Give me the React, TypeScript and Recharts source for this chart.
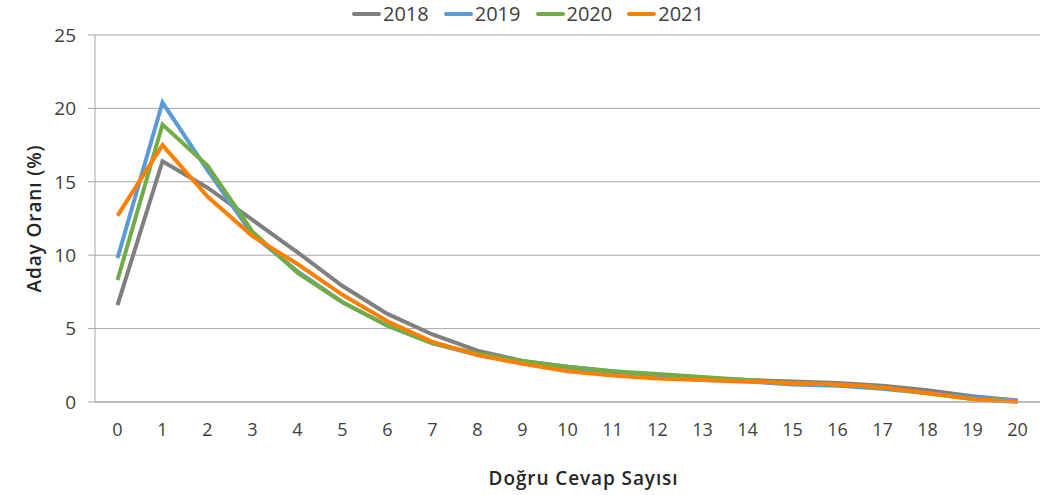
import React from "react";
import { LineChart, Line, XAxis, YAxis, CartesianGrid, Label } from "recharts";

const categories = ["0","1","2","3","4","5","6","7","8","9","10","11","12","13","14","15","16","17","18","19","20"];
const s2018 = [6.6, 16.4, 14.6, 12.4, 10.2, 7.9, 6.0, 4.6, 3.5, 2.8, 2.4, 2.1, 1.8, 1.6, 1.5, 1.4, 1.3, 1.1, 0.8, 0.4, 0.1];
const s2019 = [9.8, 20.4, 15.8, 11.4, 8.9, 6.8, 5.2, 4.0, 3.2, 2.7, 2.3, 2.0, 1.7, 1.5, 1.4, 1.2, 1.1, 0.9, 0.6, 0.3, 0.1];
const s2020 = [8.3, 18.9, 16.1, 11.6, 8.8, 6.8, 5.2, 4.0, 3.3, 2.8, 2.4, 2.1, 1.9, 1.7, 1.5, 1.3, 1.2, 1.0, 0.6, 0.2, 0.05];
const s2021 = [12.7, 17.5, 14.0, 11.3, 9.4, 7.3, 5.5, 4.1, 3.2, 2.6, 2.1, 1.8, 1.6, 1.5, 1.4, 1.3, 1.2, 1.0, 0.6, 0.2, 0.0];
const yTicks = [0, 5, 10, 15, 20, 25];
const seriesNames = ["2018", "2019", "2020", "2021"];
const colors = ["#7F7F7F", "#5B9BD5", "#70AD47", "#FF8000"];

const data = categories.map((c, i) => ({
  x: c,
  "2018": s2018[i],
  "2019": s2019[i],
  "2020": s2020[i],
  "2021": s2021[i],
}));

const FONT = "'Open Sans', 'DejaVu Sans', sans-serif";

const LegendBox = () => (
  <div style={{ position: "absolute", left: 352, top: 2, display: "flex", alignItems: "center", fontFamily: FONT, fontSize: 20, lineHeight: "24px", color: "#404040" }}>
    {seriesNames.map((n, i) => (
      <div key={n} style={{ display: "flex", alignItems: "center", marginRight: 15 }}>
        <div style={{ width: 29, height: 4, background: colors[i], borderRadius: 2, marginRight: 2 }} />
        <span>{n}</span>
      </div>
    ))}
  </div>
);

export default function App() {
  return (
    <div style={{ position: "absolute", left: 0, top: 0, width: 1056, height: 495, background: "#fff" }}>
      <LineChart width={1056} height={495} data={data} margin={{ top: 35, right: 16, bottom: 63, left: 20 }}>
        <CartesianGrid horizontal={true} vertical={false} stroke="#A6A6A6" strokeWidth={1} />
        <XAxis
          dataKey="x"
          height={30}
          padding={{ left: 22.5, right: 22.5 }}
          tickLine={false}
          axisLine={{ stroke: "#A6A6A6" }}
          tick={{ fill: "#404040", fontSize: 18, fontFamily: FONT }}
          tickMargin={15}
          interval={0}
        >
          <Label value="Doğru Cevap Sayısı" position="insideBottom" offset={-53} dx={16} style={{ fill: "#262626", fontSize: 19, fontWeight: 600, letterSpacing: 0.9, fontFamily: FONT }} />
        </XAxis>
        <YAxis
          width={75}
          domain={[0, 25]}
          ticks={yTicks}
          tickSize={7}
          tickLine={{ stroke: "#A6A6A6" }}
          axisLine={{ stroke: "#A6A6A6" }}
          tickMargin={12}
          tick={{ fill: "#404040", fontSize: 19, fontFamily: FONT }}
        >
          <Label value="Aday Oranı (%)" angle={-90} position="insideLeft" offset={14} style={{ textAnchor: "middle", fill: "#262626", fontSize: 19, fontWeight: 600, letterSpacing: 0.9, fontFamily: FONT }} />
        </YAxis>
        {seriesNames.map((n, i) => (
          <Line key={n} type="linear" dataKey={n} stroke={colors[i]} strokeWidth={4} dot={false} isAnimationActive={false} />
        ))}
      </LineChart>
      <LegendBox />
    </div>
  );
}
